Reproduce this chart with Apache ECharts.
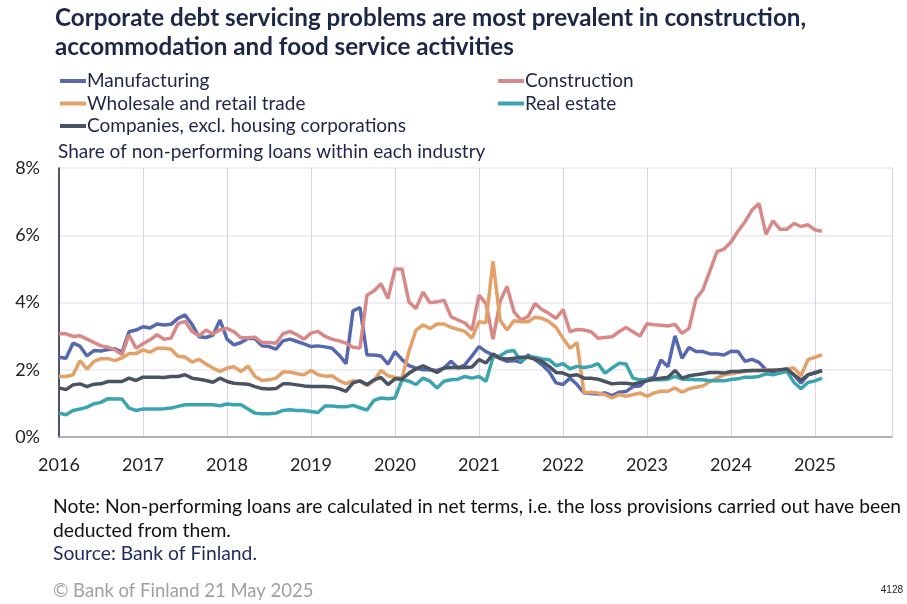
<!DOCTYPE html>
<html><head><meta charset="utf-8">
<script src="https://cdn.jsdelivr.net/npm/echarts@6/dist/echarts.min.js"></script>
<style>html,body{margin:0;padding:0;background:#fff;}#c{width:907px;height:604px;}</style>
</head><body><div id="c"></div>
<script>
var startYear = 2016, endYear = 2025;
var yearLabels = ['2016','2017','2018','2019','2020','2021','2022','2023','2024','2025'];
var yTicks = [0, 2, 4, 6, 8];

var manufacturing = [
2.37,2.34,2.79,2.70,2.41,2.57,2.56,2.60,2.62,2.52,
3.13,3.18,3.28,3.24,3.36,3.33,3.35,3.53,3.63,3.35,
2.98,2.96,3.03,3.48,2.91,2.74,2.81,2.94,2.92,2.71,
2.69,2.61,2.86,2.91,2.84,2.77,2.69,2.71,2.68,2.64,
2.44,2.18,3.75,3.85,2.44,2.44,2.41,2.17,2.54,2.30,
2.12,2.05,2.00,2.00,1.98,2.05,2.25,2.05,2.15,2.41,
2.69,2.54,2.44,2.34,2.25,2.27,2.22,2.44,2.30,2.15,
1.95,1.61,1.56,1.75,1.56,1.31,1.29,1.28,1.31,1.23,
1.33,1.35,1.50,1.52,1.72,1.77,2.29,2.09,3.01,2.34,
2.66,2.54,2.54,2.47,2.47,2.44,2.55,2.54,2.25,2.31,
2.22,2.00,1.95,1.98,2.00,1.85,1.60,1.85,1.92,1.98];

var construction = [
3.07,3.07,2.99,3.01,2.91,2.81,2.71,2.67,2.59,2.45,
3.04,2.64,2.77,2.89,3.04,2.91,2.94,3.37,3.44,3.14,
3.01,3.18,3.06,3.19,3.23,3.13,2.95,2.95,2.97,2.81,
2.81,2.79,3.07,3.14,3.04,2.91,3.09,3.14,2.99,2.91,
2.86,2.79,2.67,2.65,4.22,4.34,4.56,4.12,5.00,5.00,
4.01,3.82,4.31,3.99,4.02,4.07,3.58,3.48,3.39,3.18,
4.22,3.97,2.91,4.02,4.48,3.72,3.48,3.58,3.97,3.79,
3.67,3.53,3.79,3.13,3.20,3.18,3.13,2.94,2.96,2.98,
3.13,3.26,3.13,3.00,3.37,3.34,3.32,3.30,3.35,3.08,
3.23,4.11,4.38,4.95,5.51,5.59,5.80,6.12,6.40,6.75,
6.94,6.03,6.43,6.18,6.18,6.35,6.26,6.31,6.16,6.12];

var wholesale = [
1.80,1.80,1.85,2.27,2.02,2.25,2.33,2.33,2.27,2.35,
2.48,2.48,2.59,2.52,2.64,2.64,2.61,2.40,2.38,2.23,
2.31,2.17,2.05,1.95,2.05,2.09,1.95,2.11,1.80,1.68,
1.70,1.75,1.93,1.93,1.88,1.85,1.98,1.85,1.81,1.82,
1.68,1.59,1.67,1.66,1.53,1.67,1.98,1.82,1.77,1.75,
2.55,3.18,3.33,3.23,3.36,3.36,3.26,3.20,3.14,2.94,
3.43,3.40,5.23,3.48,3.18,3.46,3.43,3.43,3.56,3.53,
3.43,3.26,2.94,2.64,2.81,1.31,1.33,1.31,1.26,1.16,
1.26,1.21,1.26,1.31,1.21,1.31,1.36,1.36,1.46,1.33,
1.43,1.48,1.52,1.65,1.75,1.85,1.88,1.92,1.95,1.98,
1.98,2.00,2.00,1.98,2.03,2.05,1.82,2.30,2.37,2.45];

var realEstate = [
0.71,0.66,0.79,0.83,0.89,0.99,1.03,1.14,1.13,1.13,
0.86,0.79,0.83,0.83,0.83,0.84,0.86,0.91,0.96,0.96,
0.96,0.96,0.96,0.93,0.98,0.96,0.96,0.83,0.71,0.69,
0.69,0.71,0.79,0.81,0.79,0.79,0.76,0.73,0.92,0.92,
0.90,0.90,0.94,0.87,0.80,1.09,1.16,1.14,1.16,1.70,
1.66,1.56,1.75,1.66,1.46,1.66,1.70,1.72,1.80,1.75,
1.80,1.66,2.37,2.41,2.54,2.57,2.25,2.39,2.37,2.32,
2.30,2.12,2.18,2.03,2.10,2.07,2.10,2.18,1.90,2.05,
2.19,2.17,1.75,1.70,1.70,1.70,1.70,1.72,1.80,1.72,
1.72,1.70,1.70,1.67,1.67,1.67,1.71,1.73,1.78,1.78,
1.80,1.88,1.85,1.90,1.95,1.62,1.44,1.62,1.67,1.75];

var companies = [
1.46,1.41,1.55,1.58,1.50,1.57,1.58,1.65,1.65,1.65,
1.75,1.68,1.78,1.78,1.78,1.77,1.80,1.80,1.85,1.75,
1.72,1.68,1.63,1.75,1.65,1.60,1.58,1.57,1.50,1.44,
1.43,1.44,1.58,1.58,1.55,1.52,1.50,1.50,1.50,1.49,
1.44,1.36,1.61,1.67,1.56,1.70,1.77,1.56,1.73,1.72,
1.90,2.02,2.12,2.02,1.92,2.05,2.07,2.07,2.07,2.08,
2.30,2.20,2.47,2.34,2.32,2.34,2.37,2.37,2.32,2.25,
2.10,1.92,1.90,1.82,1.85,1.75,1.75,1.72,1.65,1.58,
1.60,1.60,1.57,1.62,1.67,1.72,1.75,1.78,1.98,1.75,
1.82,1.85,1.88,1.92,1.92,1.90,1.95,1.95,1.97,1.98,
1.98,1.98,1.98,2.00,2.02,1.85,1.69,1.85,1.90,1.97];

// monthly categories Jan 2016 .. Dec 2025
var months = [];
for (var y = startYear; y <= endYear; y++) {
  for (var m = 1; m <= 12; m++) months.push(y + '-' + (m < 10 ? '0' + m : m));
}

var FONT = 'Lato';
var NAVY = '#1d2747';
var colors = {
  man: '#5568b0', con: '#d98888', who: '#e3a067', rea: '#3ba4b0', com: '#4a5362'
};

function mk(name, data, color) {
  return {
    name: name, type: 'line', data: data, showSymbol: false, symbol: 'none',
    lineStyle: { color: color, width: 3.5 }, itemStyle: { color: color },
    animation: false
  };
}

var legendText = { fontFamily: FONT, fontSize: 19, color: NAVY, lineHeight: 20, padding: [0, 0, 0, -4] };

var chart = echarts.init(document.getElementById('c'), null, { renderer: 'canvas' });
var lastIdx = months.length - 1;
chart.setOption({
  animation: false,
  backgroundColor: '#ffffff',
  textStyle: { fontFamily: FONT },
  title: {
    text: 'Corporate debt servicing problems are most prevalent in construction,\naccommodation and food service activities',
    left: 55, top: 4, padding: 0,
    textStyle: { fontFamily: FONT, fontWeight: 'bold', fontSize: 24.2, color: NAVY, lineHeight: 29 }
  },
  legend: [
    {
      data: ['Manufacturing', 'Wholesale and retail trade', 'Companies, excl. housing corporations'],
      orient: 'vertical', left: 55, top: 66, itemGap: 2.5, itemWidth: 26, itemHeight: 4,
      icon: 'rect', textStyle: legendText
    },
    {
      data: ['Construction', 'Real estate'],
      orient: 'vertical', left: 493, top: 66, itemGap: 2.5, itemWidth: 26, itemHeight: 4,
      icon: 'rect', textStyle: legendText
    }
  ],
  grid: { left: 59, right: 15, top: 168, bottom: 167, containLabel: false },
  xAxis: {
    type: 'category', data: months, boundaryGap: false,
    axisLine: { lineStyle: { color: '#9a9aac', width: 1.5 } },
    axisTick: { show: false },
    axisLabel: {
      interval: function (i) { return i % 12 === 0; },
      formatter: function (v) { return v.slice(0, 4); },
      fontFamily: FONT, fontSize: 18, color: '#222', margin: 19
    },
    splitLine: {
      show: true,
      interval: function (i) { return i % 12 === 0 || i === lastIdx; },
      lineStyle: { color: '#d6d6e0', width: 1 }
    }
  },
  yAxis: {
    type: 'value', min: 0, max: 8, interval: 2,
    axisLine: { show: true, lineStyle: { color: '#1a1f3d', width: 1.5 } },
    axisTick: { show: false },
    axisLabel: {
      formatter: function (v) { return v + '%'; },
      fontFamily: FONT, fontSize: 18, color: '#222', margin: 19
    },
    splitLine: { lineStyle: { color: '#e8e8f0', width: 1.5 } }
  },
  graphic: [
    { type: 'text', left: 58, top: 142, style: { text: 'Share of non-performing loans within each industry', fontFamily: FONT, fontSize: 19, fill: NAVY } },
    { type: 'text', left: 53, top: 497, style: { text: 'Note: Non-performing loans are calculated in net terms, i.e. the loss provisions carried out have been', fontFamily: FONT, fontSize: 19.3, fill: '#111' } },
    { type: 'text', left: 53, top: 521, style: { text: 'deducted from them.', fontFamily: FONT, fontSize: 19.3, fill: '#111' } },
    { type: 'text', left: 53, top: 544.5, style: { text: 'Source: Bank of Finland.', fontFamily: FONT, fontSize: 19.3, fill: '#1f2a5c' } },
    { type: 'text', left: 53, top: 582, style: { text: '\u00A9 Bank of Finland 21 May 2025', fontFamily: FONT, fontSize: 18.5, fill: '#a0a0a0' } },
    { type: 'text', right: 4, top: 585, style: { text: '4128', fontFamily: 'Liberation Sans', fontSize: 10, fill: '#222' } }
  ],
  series: [
    mk('Manufacturing', manufacturing, colors.man),
    mk('Construction', construction, colors.con),
    mk('Wholesale and retail trade', wholesale, colors.who),
    mk('Real estate', realEstate, colors.rea),
    mk('Companies, excl. housing corporations', companies, colors.com)
  ]
});
</script>
</body></html>
